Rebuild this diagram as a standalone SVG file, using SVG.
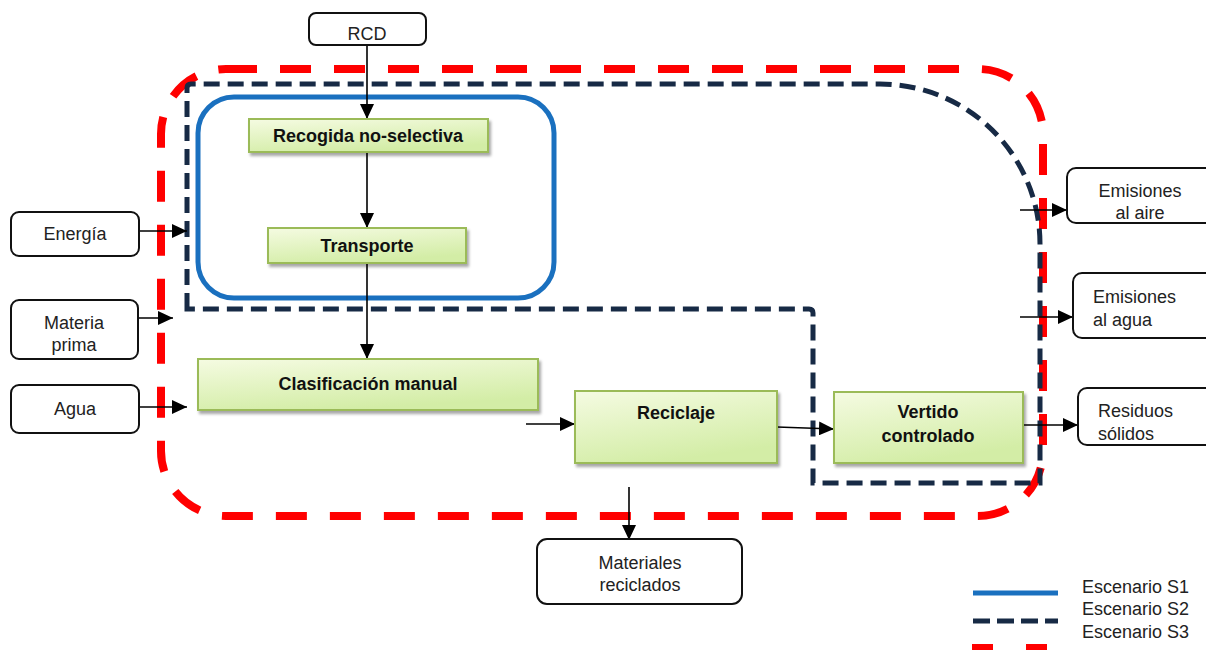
<svg xmlns="http://www.w3.org/2000/svg" width="1206" height="650" viewBox="0 0 1206 650">
  <defs>
    <linearGradient id="boxFill" x1="0" y1="0" x2="0.4" y2="1">
      <stop offset="0" stop-color="#f5fbe2"/>
      <stop offset="1" stop-color="#d3eda6"/>
    </linearGradient>
    <filter id="shadow" x="-10%" y="-20%" width="125%" height="150%">
      <feGaussianBlur in="SourceAlpha" stdDeviation="1.6"/>
      <feOffset dx="2" dy="3" result="b"/>
      <feComponentTransfer><feFuncA type="linear" slope="0.35"/></feComponentTransfer>
      <feMerge><feMergeNode/><feMergeNode in="SourceGraphic"/></feMerge>
    </filter>
    <marker id="arrow" viewBox="0 0 15 14" refX="15" refY="7" markerWidth="15" markerHeight="14" markerUnits="userSpaceOnUse" orient="auto">
      <path d="M0,0 L15,7 L0,14 Z" fill="#000"/>
    </marker>
  </defs>
  <style>
    .proc { fill: url(#boxFill); stroke: #9bbb59; stroke-width: 2; filter: url(#shadow); }
    .ptxt { font-family: "Liberation Sans", Arial, sans-serif; font-weight: bold; font-size: 18px; fill: #111; text-anchor: middle; }
    .io { fill: #fff; stroke: #111; stroke-width: 2; }
    .itxt { font-family: "Liberation Sans", Arial, sans-serif; font-size: 18px; fill: #222; text-anchor: middle; }
    .ltxt { font-family: "Liberation Sans", Arial, sans-serif; font-size: 18px; fill: #222; }
    .s1 { fill: none; stroke: #1a70bf; stroke-width: 5; }
    .s2 { fill: none; stroke: #172a45; stroke-width: 5; stroke-dasharray: 16 8; }
    .s3 { fill: none; stroke: #ff0000; stroke-width: 8; stroke-dasharray: 31 23; }
    .edge { fill: none; stroke: #000; stroke-width: 1.6; marker-end: url(#arrow); }
  </style>

  <rect width="1206" height="650" fill="#fff"/>

  <!-- scenario boundaries -->
  <g id="scenarios">
    <rect id="scenario-s3" class="s3" x="161" y="69" width="882" height="447" rx="65" ry="65"/>
    <path id="scenario-s2" class="s2" d="M187,309 L187,88 Q187,84 191,84 L880,84 A160,160 0 0 1 1040,244 L1040,483 L813,483 L813,313 Q813,309 809,309 Z"/>
    <rect id="scenario-s1" class="s1" x="198" y="97" width="356" height="201" rx="36" ry="36"/>
  </g>

  <!-- connectors -->
  <g id="connectors">
    <line class="edge" x1="367" y1="45" x2="367" y2="119"/>
    <line class="edge" x1="367" y1="152" x2="367" y2="228"/>
    <line class="edge" x1="367" y1="263" x2="367" y2="359"/>
    <line class="edge" x1="139" y1="231" x2="187" y2="231"/>
    <line class="edge" x1="138" y1="318" x2="173" y2="318"/>
    <line class="edge" x1="139" y1="407" x2="187" y2="407"/>
    <line class="edge" x1="526" y1="424" x2="575" y2="424"/>
    <line class="edge" x1="777" y1="427" x2="834" y2="429"/>
    <line class="edge" x1="1016" y1="425" x2="1078" y2="425"/>
    <line class="edge" x1="1020" y1="210" x2="1067" y2="210"/>
    <line class="edge" x1="1020" y1="317" x2="1073" y2="317"/>
    <line class="edge" x1="629" y1="487" x2="629" y2="540"/>
  </g>

  <!-- process steps -->
  <g id="recogida">
    <rect class="proc" x="249" y="119" width="239" height="33"/>
    <text class="ptxt" x="368" y="142">Recogida no-selectiva</text>
  </g>
  <g id="transporte">
    <rect class="proc" x="268" y="228" width="198" height="35"/>
    <text class="ptxt" x="367" y="252">Transporte</text>
  </g>
  <g id="clasificacion">
    <rect class="proc" x="198" y="359" width="340" height="51"/>
    <text class="ptxt" x="368" y="390">Clasificación manual</text>
  </g>
  <g id="reciclaje">
    <rect class="proc" x="575" y="391" width="202" height="72"/>
    <text class="ptxt" x="676" y="419">Reciclaje</text>
  </g>
  <g id="vertido">
    <rect class="proc" x="834" y="392" width="189" height="71"/>
    <text class="ptxt" x="928" y="418">Vertido</text>
    <text class="ptxt" x="928" y="442">controlado</text>
  </g>

  <!-- inputs and outputs -->
  <g id="rcd">
    <rect class="io" x="309" y="13" width="117" height="32" rx="7"/>
    <text class="itxt" x="367" y="40">RCD</text>
  </g>
  <g id="energia">
    <rect class="io" x="11" y="212" width="128" height="44" rx="8"/>
    <text class="itxt" x="75" y="240">Energía</text>
  </g>
  <g id="materia-prima">
    <rect class="io" x="11" y="300" width="127" height="59" rx="8"/>
    <text class="itxt" x="74" y="329">Materia</text>
    <text class="itxt" x="74" y="351">prima</text>
  </g>
  <g id="agua">
    <rect class="io" x="11" y="385" width="128" height="48" rx="8"/>
    <text class="itxt" x="75" y="415">Agua</text>
  </g>
  <g id="emisiones-aire">
    <rect class="io" x="1067" y="168" width="150" height="55" rx="9"/>
    <text class="itxt" x="1140" y="197">Emisiones</text>
    <text class="itxt" x="1140" y="219">al aire</text>
  </g>
  <g id="emisiones-agua">
    <rect class="io" x="1073" y="273" width="150" height="65" rx="9"/>
    <text class="ltxt" x="1093" y="303">Emisiones</text>
    <text class="ltxt" x="1093" y="326">al agua</text>
  </g>
  <g id="residuos">
    <rect class="io" x="1078" y="388" width="150" height="57" rx="9"/>
    <text class="ltxt" x="1098" y="417">Residuos</text>
    <text class="ltxt" x="1098" y="440">sólidos</text>
  </g>
  <g id="materiales">
    <rect class="io" x="537" y="539" width="205" height="65" rx="10"/>
    <text class="itxt" x="640" y="569">Materiales</text>
    <text class="itxt" x="640" y="591">reciclados</text>
  </g>

  <!-- legend -->
  <g id="legend">
    <line x1="973" y1="593" x2="1058" y2="593" stroke="#1a70bf" stroke-width="5"/>
    <line x1="973" y1="621" x2="1058" y2="621" stroke="#172a45" stroke-width="5" stroke-dasharray="17 7"/>
    <line x1="972" y1="648" x2="1058" y2="648" stroke="#ff0000" stroke-width="8" stroke-dasharray="21 33"/>
    <text class="ltxt" x="1082" y="593">Escenario S1</text>
    <text class="ltxt" x="1082" y="615">Escenario S2</text>
    <text class="ltxt" x="1082" y="638">Escenario S3</text>
  </g>
</svg>
